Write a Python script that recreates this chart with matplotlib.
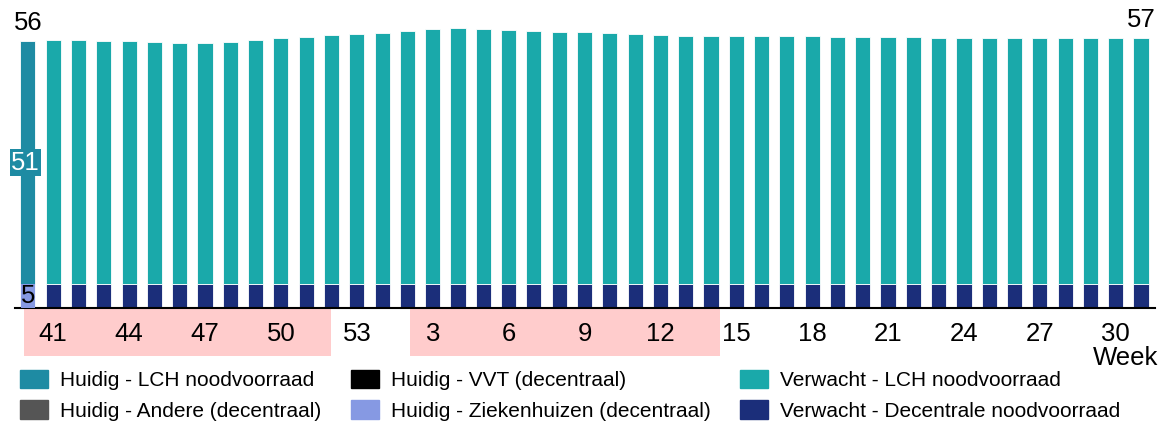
import numpy as np
import matplotlib.pyplot as plt
from matplotlib.patches import Patch, Rectangle
import matplotlib.transforms as mtransforms

plt.rcParams['font.family'] = ['Liberation Sans', 'DejaVu Sans']

# Weken: huidige week 40, daarna verwachting week 41 t/m 31
weeks = list(range(40, 54)) + list(range(1, 32))
huidig_lch = 51
huidig_zkh = 5
# totaal verwacht (decentraal + LCH), week 41 .. 31
verwacht_totaal = [56.2, 56.2, 56.0, 56.0, 55.8, 55.6, 55.6, 55.8, 56.2, 56.5,
                   56.8, 57.3, 57.5, 57.7, 58.1, 58.5, 58.6, 58.5, 58.3, 58.1,
                   57.9, 57.9, 57.7, 57.5, 57.3, 57.1, 57.0, 57.0, 57.0, 57.0,
                   57.0, 56.8, 56.8, 56.8, 56.8, 56.7, 56.7, 56.7, 56.7, 56.7,
                   56.7, 56.7, 56.7, 56.7]
verwacht_dec = [5] * len(verwacht_totaal)
verwacht_lch = [t - d for t, d in zip(verwacht_totaal, verwacht_dec)]
tick_weeks = [41, 44, 47, 50, 53, 3, 6, 9, 12, 15, 18, 21, 24, 27, 30]
# roze banden onder de as (in index-eenheden)
bands = [(-0.15, 11.97), (15.1, 27.35)]

c_huidig_lch = '#1e8ba3'
c_vvt = '#000000'
c_andere = '#555555'
c_zkh = '#8699e3'
c_verw_lch = '#1aa9aa'
c_verw_dec = '#1b2e7a'

fig = plt.figure(figsize=(11.62, 4.25), dpi=100)
ax = fig.add_axes([15 / 1162, 1 - 308 / 425, 1140 / 1162, 286.2 / 425])

x_exp = np.arange(1, len(verwacht_totaal) + 1)
w = 0.6
ax.bar(0, huidig_zkh, width=w, color=c_zkh, edgecolor='white', linewidth=0.6)
ax.bar(0, huidig_lch, bottom=huidig_zkh, width=w, color=c_huidig_lch, edgecolor='white', linewidth=0.6)
ax.bar(x_exp, verwacht_dec, width=w, color=c_verw_dec, edgecolor='white', linewidth=0.6)
ax.bar(x_exp, verwacht_lch, bottom=verwacht_dec, width=w, color=c_verw_lch, edgecolor='white', linewidth=0.6)

ax.set_xlim(-0.51, 44.55)
ax.set_ylim(0, 60)
for s in ['top', 'right', 'left']:
    ax.spines[s].set_visible(False)
ax.spines['bottom'].set_linewidth(1.5)
ax.set_yticks([])

pos = [weeks.index(wk) if wk >= 40 else 14 + wk - 1 for wk in tick_weeks]
ax.set_xticks(pos)
ax.set_xticklabels([str(wk) for wk in tick_weeks], fontsize=18.5)
ax.tick_params(axis='x', length=0, pad=10)

trans = mtransforms.blended_transform_factory(ax.transData, ax.transAxes)
for a, b in bands:
    ax.add_patch(Rectangle((a, -0.168), b - a, 0.168, transform=trans,
                           facecolor='#ffcccc', edgecolor='none', clip_on=False, zorder=0))

# labels
ax.text(0, huidig_zkh + huidig_lch + 1.2, str(huidig_zkh + huidig_lch), ha='center', va='bottom', fontsize=18.5)
ax.text(x_exp[-1], verwacht_totaal[-1] + 1.2, str(round(verwacht_totaal[-1])), ha='center', va='bottom', fontsize=18.5)
ax.text(-0.1, huidig_zkh + huidig_lch / 2, str(huidig_lch), ha='center', va='center', fontsize=18.5, color='white',
        bbox=dict(facecolor=c_huidig_lch, edgecolor='none', pad=1))
ax.text(0, huidig_zkh / 2, str(huidig_zkh), ha='center', va='center', fontsize=18.5,
        bbox=dict(facecolor=c_zkh, edgecolor='none', pad=0))

fig.text(1158 / 1162, 1 - 358 / 425, 'Week', ha='right', va='center', fontsize=18.5)

handles = [Patch(color=c_huidig_lch), Patch(color=c_andere), Patch(color=c_vvt),
           Patch(color=c_zkh), Patch(color=c_verw_lch), Patch(color=c_verw_dec)]
labels = ['Huidig - LCH noodvoorraad', 'Huidig - Andere (decentraal)', 'Huidig - VVT (decentraal)',
          'Huidig - Ziekenhuizen (decentraal)', 'Verwacht - LCH noodvoorraad', 'Verwacht - Decentrale noodvoorraad']
fig.legend(handles, labels, ncol=3, loc='upper left', bbox_to_anchor=(20 / 1162, 1 - 370 / 425),
           frameon=False, fontsize=15, handlelength=1.35, handleheight=0.96, handletextpad=0.58,
           columnspacing=1.4, labelspacing=0.49, borderpad=0, borderaxespad=0)

fig.savefig('out.png', dpi=100)
